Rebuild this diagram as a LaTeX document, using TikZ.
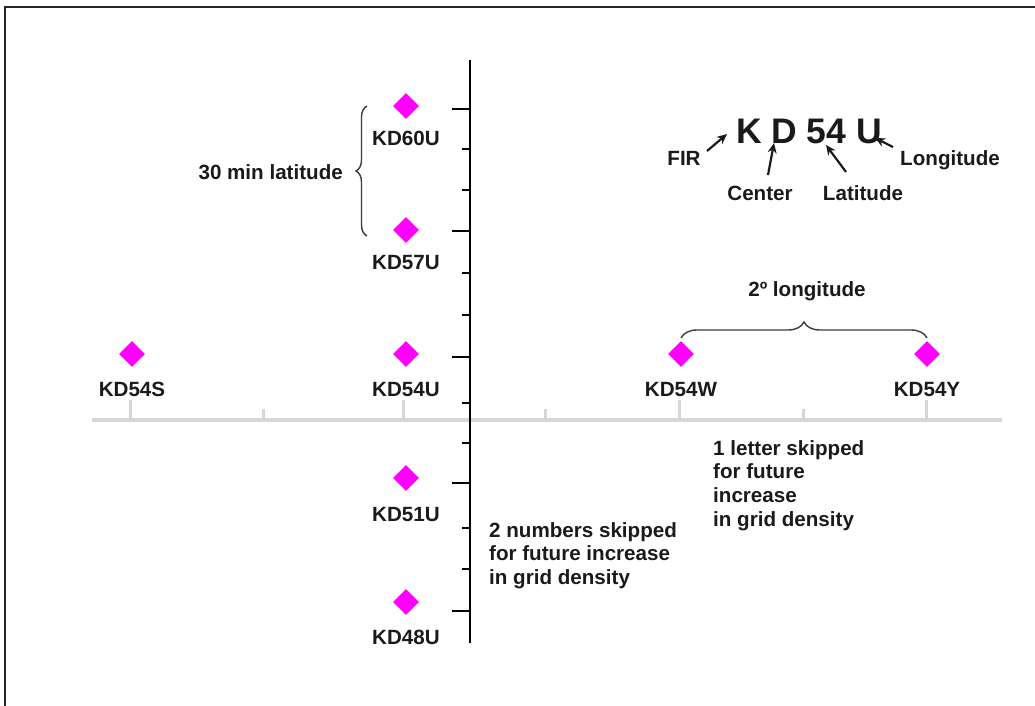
\documentclass[tikz,border=0pt]{standalone}
\usepackage{fontspec}
\setmainfont{Liberation Sans}
\usetikzlibrary{shapes.geometric,decorations.pathreplacing,arrows.meta}
\definecolor{mag}{HTML}{FF00FF}
\definecolor{axgray}{HTML}{D6D6D6}
\definecolor{ink}{HTML}{1A1A1A}
\tikzset{
  pt/.style={diamond,fill=mag,draw=none,minimum width=26pt,minimum height=26pt,inner sep=0pt},
  lbl/.style={font=\fontsize{20.6}{23.8}\selectfont\bfseries,text=ink,inner sep=0pt},
  blk/.style={lbl,align=left,anchor=north west},
  arr/.style={line width=2.2pt,ink,-{Stealth[length=10pt,width=9pt]}},
  brc/.style={line width=1.4pt,ink!85,decorate},
  tickblack/.style={line width=1.4pt,black},
  tickgray/.style={line width=3pt,axgray},
}
\begin{document}
\begin{tikzpicture}[x=1pt,y=-1pt]
\useasboundingbox (0,0) rectangle (1035,705);
% frame (cropped)
\draw[line width=2.6pt,black!85] (5,706) -- (5,7) -- (1036,7);
% horizontal gray axis
\draw[line width=4pt,axgray] (92,420) -- (1002,420);
\foreach \x in {130,403,679,926} \draw[tickgray] (\x,400) -- (\x,420);
\foreach \x in {263,545,803} \draw[tickgray] (\x,409) -- (\x,420);
% vertical black axis
\draw[line width=1.5pt,black] (470,60) -- (470,643);
\foreach \y in {109,231,357,483,611} \draw[tickblack] (452,\y) -- (470,\y);
\foreach \y in {149,190,273,315,403,443,528,569} \draw[tickblack] (462,\y) -- (470,\y);
% points
\node[pt] (p60) at (406,106) {};
\node[pt] (p57) at (406,230) {};
\node[pt] (p54s) at (132,354) {};
\node[pt] (p54u) at (406,354) {};
\node[pt] (p54w) at (681,354) {};
\node[pt] (p54y) at (927,354) {};
\node[pt] (p51) at (406,478) {};
\node[pt] (p48) at (406,602) {};
% labels
\node[lbl,anchor=base] (l60) at (406,145) {KD60U};
\node[lbl,anchor=base] (l57) at (406,269) {KD57U};
\node[lbl,anchor=base] (l54s) at (132,396) {KD54S};
\node[lbl,anchor=base] (l54u) at (406,396) {KD54U};
\node[lbl,anchor=base] (l54w) at (681,396) {KD54W};
\node[lbl,anchor=base] (l54y) at (927,396) {KD54Y};
\node[lbl,anchor=base] (l51) at (406,521) {KD51U};
\node[lbl,anchor=base] (l48) at (406,644) {KD48U};
% latitude brace
\draw[brc,decoration={brace,amplitude=11pt}] (367,236) -- (367,106);
\node[lbl,anchor=base east] (lat30) at (343,179) {30 min latitude};
% longitude brace
\draw[brc,decoration={brace,amplitude=16pt}] (681,338) -- (927,338);
\node[lbl,anchor=base] (lon2) at (807,296) {2º longitude};
% code explanation
\node[lbl,anchor=base,font=\fontsize{35.5}{40}\selectfont\bfseries] (code) at (809,143) {K D 54 U};
\node[lbl,anchor=base] (fir) at (684,165) {FIR};
\node[lbl,anchor=base] (cen) at (760,200) {Center};
\node[lbl,anchor=base] (latl) at (863,200) {Latitude};
\node[lbl,anchor=base] (lonl) at (950,165) {Longitude};
\coordinate (firA) at (707,151); \coordinate (firB) at (727,134);
\coordinate (cenA) at (768,175); \coordinate (cenB) at (774,143);
\coordinate (latA) at (846,172); \coordinate (latB) at (826,145);
\coordinate (lonA) at (893,147); \coordinate (lonB) at (875,138);
\draw[arr] (firA) -- (firB);
\draw[arr] (cenA) -- (cenB);
\draw[arr] (latA) -- (latB);
\draw[arr] (lonA) -- (lonB);
% notes
\node[blk] (note1) at (713,440) {1 letter skipped\\for future\\increase\\in grid density};
\node[blk] (note2) at (489,522) {2 numbers skipped\\for future increase\\in grid density};
\end{tikzpicture}
\end{document}
